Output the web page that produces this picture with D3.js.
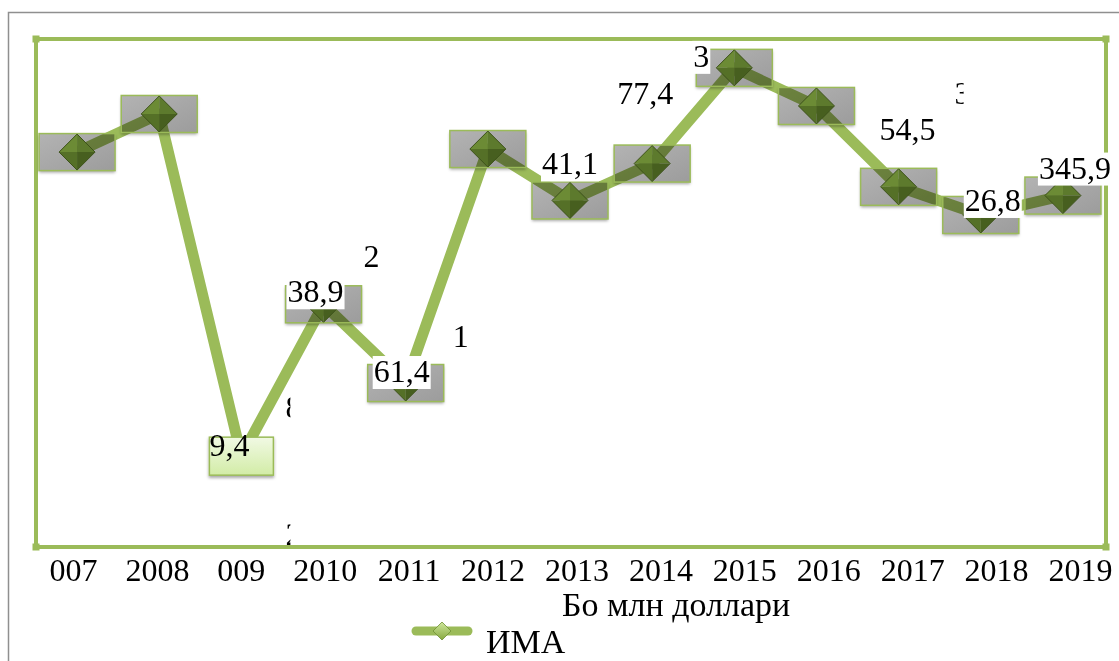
<!DOCTYPE html>
<html lang="tg">
<head>
<meta charset="UTF-8">
<title>ИМА</title>
<script src="https://d3js.org/d3.v7.min.js"></script>
<style>
    body { margin: 0; background: #fff; }
    svg text { font-family: "Liberation Serif", "Times New Roman", serif; fill: #000; }
</style>
</head>
<body>
<script>
    // data (million dollars)
    var categories = ['2007', '2008', '2009', '2010', '2011', '2012', '2013', '2014', '2015', '2016', '2017', '2018', '2019'];
    var tickLabels = ['007', '2008', '009', '2010', '2011', '2012', '2013', '2014', '2015', '2016', '2017', '2018', '2019'];
    var values = [388.7, 426.2, 89.4, 238.9, 161.4, 391.7, 341.1, 377.4, 471.6, 434.1, 354.5, 326.8, 345.9];
    var valueLabels = ['', '', '9,4', '38,9', '61,4', '', '41,1', '77,4', '3', '', '54,5', '26,8', '345,9'];
    var seriesName = 'ИМА';
    var axisTitle = 'Бо млн доллари';

    // label placement relative to its point (dx = text start, dy = baseline), white box or not
    var labelPos = [null, null, [-32, 0, false], [-36, -2, true], [-32, -1, true], null,
        [-28, -26, true], [-35, -60, false], [-41, -1, true], null, [-19, -47, false], [-16, -4, true], [-24, -17, true]];
    // stray pieces of labels that leak out of the original
    var strays = [
        {i: 3, text: '2', dx: 40, dy: -37, clip: null},
        {i: 4, text: '1', dx: 47, dy: -36, clip: null},
        {i: 2, text: '8', dx: 44, dy: -38, clip: 5},
        {i: 2, text: '2', dx: 44, dy: 89, clip: 5},
        {i: 10, text: '3', dx: 56, dy: -83, clip: 9}
    ];

    var W = 1119, H = 661;
    var plot = {left: 36, top: 39, right: 1106, bottom: 547};
    var green = '#9bbb59';
    var fs = 32, fsCyr = 34;

    var svg = d3.select('body').append('svg')
        .attr('width', W).attr('height', H);

    var defs = svg.append('defs');
    var sh = defs.append('filter').attr('id', 'shadow')
        .attr('x', '-20%').attr('y', '-20%').attr('width', '140%').attr('height', '160%');
    sh.append('feDropShadow').attr('dx', 0).attr('dy', 2).attr('stdDeviation', 1.5)
        .attr('flood-color', '#000').attr('flood-opacity', 0.35);
    var gBox = defs.append('linearGradient').attr('id', 'gbox')
        .attr('x1', 0).attr('y1', 0).attr('x2', 1).attr('y2', 1);
    gBox.append('stop').attr('offset', '0%').attr('stop-color', '#b3b3b3');
    gBox.append('stop').attr('offset', '100%').attr('stop-color', '#9c9c9c');
    var gLight = defs.append('linearGradient').attr('id', 'glight')
        .attr('x1', 0).attr('y1', 0).attr('x2', 0).attr('y2', 1);
    gLight.append('stop').attr('offset', '0%').attr('stop-color', '#f1f9e4');
    gLight.append('stop').attr('offset', '100%').attr('stop-color', '#d2eca6');
    var gLeg = defs.append('linearGradient').attr('id', 'gleg')
        .attr('x1', 0).attr('y1', 0).attr('x2', 0).attr('y2', 1);
    gLeg.append('stop').attr('offset', '0%').attr('stop-color', '#cfe79c');
    gLeg.append('stop').attr('offset', '100%').attr('stop-color', '#86a83f');

    // outer border of the picture
    svg.append('path')
        .attr('d', 'M8.5,' + H + 'V12.5H' + W)
        .attr('fill', 'none').attr('stroke', '#8f8f8f').attr('stroke-width', 1.5);

    var x = d3.scalePoint().domain(categories).range([plot.left, plot.right - 2]).padding(0.5);
    var y = d3.scaleLinear().domain([0, 500]).range([plot.bottom, plot.top]);

    // plot frame
    svg.append('rect')
        .attr('x', plot.left).attr('y', plot.top)
        .attr('width', plot.right - plot.left).attr('height', plot.bottom - plot.top)
        .attr('fill', 'none').attr('stroke', green).attr('stroke-width', 4);
    [[plot.left, plot.top], [plot.right, plot.top], [plot.left, plot.bottom], [plot.right, plot.bottom]].forEach(function (c) {
        svg.append('rect').attr('x', c[0] - 3.5).attr('y', c[1] - 3.5)
            .attr('width', 7).attr('height', 7).attr('fill', green);
    });

    var pts = categories.map(function (c, i) {
        return {cat: c, v: values[i], i: i};
    });

    // the line
    svg.append('path')
        .datum(pts)
        .attr('fill', 'none')
        .attr('stroke', green)
        .attr('stroke-width', 11)
        .attr('stroke-linejoin', 'round')
        .attr('d', d3.line().x(function (d) { return x(d.cat); }).y(function (d) { return y(d.v); }));

    // grey label boxes (multiply, so the line darkens inside)
    var bw = 76, bh = 37;
    var boxed = pts.filter(function (d) { return d.i !== 2; });
    svg.selectAll('.box')
        .data(boxed)
        .enter().append('rect')
        .attr('class', 'box')
        .attr('x', function (d) { return x(d.cat) - bw / 2; })
        .attr('y', function (d) { return y(d.v) - bh / 2; })
        .attr('width', bw).attr('height', bh)
        .attr('fill', 'url(#gbox)')
        .attr('filter', 'url(#shadow)')
        .style('mix-blend-mode', 'multiply');
    svg.selectAll('.boxEdge')
        .data(boxed)
        .enter().append('rect')
        .attr('class', 'boxEdge')
        .attr('x', function (d) { return x(d.cat) - bw / 2; })
        .attr('y', function (d) { return y(d.v) - bh / 2; })
        .attr('width', bw).attr('height', bh)
        .attr('fill', 'none').attr('stroke', green).attr('stroke-width', 1.5);

    // diamond markers
    var r = 18;
    var facets = [
        {d: function (cx, cy) { return [[cx - r, cy], [cx, cy - r], [cx, cy]]; }, c: '#6c8b35'},
        {d: function (cx, cy) { return [[cx, cy - r], [cx + r, cy], [cx, cy]]; }, c: '#5d7a2d'},
        {d: function (cx, cy) { return [[cx - r, cy], [cx, cy + r], [cx, cy]]; }, c: '#557027'},
        {d: function (cx, cy) { return [[cx, cy + r], [cx + r, cy], [cx, cy]]; }, c: '#475f1f'}
    ];
    var mk = svg.selectAll('.mk').data(pts).enter().append('g').attr('class', 'mk');
    facets.forEach(function (f) {
        mk.append('polygon')
            .attr('points', function (d) { return f.d(x(d.cat), y(d.v)).join(' '); })
            .attr('fill', f.c);
    });
    mk.append('polygon')
        .attr('points', function (d) {
            var cx = x(d.cat), cy = y(d.v);
            return [[cx - r, cy], [cx, cy - r], [cx + r, cy], [cx, cy + r]].join(' ');
        })
        .attr('fill', 'none').attr('stroke', '#3d521a').attr('stroke-width', 1);

    // light green box of the 2009 point covers its marker
    var p9 = pts[2];
    svg.append('rect')
        .attr('x', x(p9.cat) - 32).attr('y', y(p9.v) - 19)
        .attr('width', 64).attr('height', 38)
        .attr('fill', 'url(#glight)').attr('stroke', green).attr('stroke-width', 1.5)
        .attr('filter', 'url(#shadow)');

    // value labels
    pts.forEach(function (d) {
        var lp = labelPos[d.i];
        if (!lp || !valueLabels[d.i]) return;
        var tx = x(d.cat) + lp[0], ty = y(d.v) + lp[1];
        var t = svg.append('text')
            .attr('x', tx).attr('y', ty)
            .style('font-size', fs + 'px')
            .text(valueLabels[d.i]);
        if (lp[2]) {
            var bb = t.node().getBBox();
            svg.insert('rect', function () { return t.node(); })
                .attr('x', bb.x - 1).attr('y', ty - 26)
                .attr('width', bb.width + 2).attr('height', 33)
                .attr('fill', '#fff');
        }
    });

    // clipped fragments
    strays.forEach(function (s, k) {
        var p = pts[s.i];
        var sx = x(p.cat) + s.dx, sy = y(p.v) + s.dy;
        var t = svg.append('text')
            .attr('x', sx).attr('y', sy)
            .style('font-size', fs + 'px')
            .text(s.text);
        if (s.clip) {
            defs.append('clipPath').attr('id', 'cl' + k)
                .append('rect').attr('x', sx - 2).attr('y', sy - 40)
                .attr('width', s.clip + 2).attr('height', Math.min(60, plot.bottom - 2 - (sy - 40)));
            t.attr('clip-path', 'url(#cl' + k + ')');
        }
    });

    // category axis
    var xTick = d3.scalePoint().domain(categories).range([73, 1080]);
    var ax = svg.append('g')
        .attr('transform', 'translate(0,' + plot.bottom + ')')
        .call(d3.axisBottom(xTick).tickSize(0).tickPadding(11)
            .tickFormat(function (d, i) { return tickLabels[i]; }));
    ax.select('.domain').remove();
    ax.selectAll('text')
        .style('font-size', fs + 'px')
        .style('font-family', '"Liberation Serif", "Times New Roman", serif')
        .attr('fill', '#000');

    svg.append('text')
        .attr('x', 562).attr('y', 616)
        .style('font-size', fsCyr + 'px')
        .text(axisTitle);

    // legend
    var lg = svg.append('g').attr('transform', 'translate(412,631)');
    lg.append('line')
        .attr('x1', 4).attr('x2', 56).attr('y1', 0).attr('y2', 0)
        .attr('stroke', green).attr('stroke-width', 9).attr('stroke-linecap', 'round');
    lg.append('polygon')
        .attr('points', [[21, 0], [30, -9], [39, 0], [30, 9]].join(' '))
        .attr('fill', 'url(#gleg)').attr('stroke', '#6f8f33').attr('stroke-width', 0.8);
    lg.append('text')
        .attr('x', 74).attr('y', 22)
        .style('font-size', fsCyr + 'px')
        .text(seriesName);
</script>
</body>
</html>
